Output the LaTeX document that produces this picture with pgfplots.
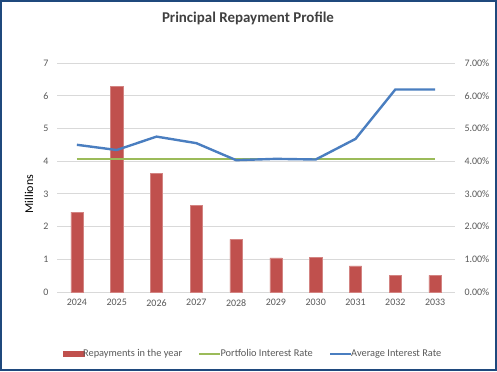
\documentclass[border=0pt]{standalone}
\usepackage{pgfplots}
\pgfplotsset{compat=1.18}
\usepackage{fontspec}
\setmainfont{Carlito}
\definecolor{barred}{HTML}{C0504D}
\definecolor{lgreen}{HTML}{9BBB59}
\definecolor{lblue}{HTML}{4A7EC0}
\definecolor{gridc}{HTML}{D9D9D9}
\definecolor{tickc}{HTML}{595959}
\definecolor{frame}{HTML}{1F497D}
\begin{document}
\begin{tikzpicture}[x=1bp,y=1bp]
\fill[white] (0,0) rectangle (497,371);
\draw[frame,line width=2bp] (1,1) rectangle (496,370);
\node[font=\fontsize{15}{17}\selectfont\bfseries,text=black!75] at (248,353) {Principal Repayment Profile};
\node[rotate=90,font=\fontsize{12}{14}\selectfont] at (29,177) {Millions};
\begin{axis}[
  at={(57bp,79bp)}, anchor=south west,
  scale only axis, width=398bp, height=229bp,
  xmin=-0.5, xmax=9.5, ymin=0, ymax=7,
  xtick={0,...,9},
  xticklabels={2024,2025,2026,2027,2028,2029,2030,2031,2032,2033},
  ytick={0,1,...,7},
  axis y line*=left, axis x line*=bottom,
  axis line style={draw=none},
  x axis line style={draw=gridc},
  major tick length=0pt,
  ymajorgrids, grid style={gridc, line width=0.8bp},
  tick label style={font=\fontsize{10}{12}\selectfont, text=tickc},
  yticklabel style={xshift=-5bp},
  xticklabel style={yshift=-4bp},
  /pgf/number format/assume math mode=true,
  legend columns=3,
  legend style={at={(0.4925,-0.27)}, anchor=center, draw=none, font=\fontsize{10.4}{12}\selectfont, text=tickc, /tikz/every even column/.append style={column sep=14bp}, /tikz/every odd column/.append style={column sep=-3bp}},
  legend image code/.code={\draw[#1] (0bp,0bp) -- (21bp,0bp);},
]
\addplot[ybar, bar width=12.3bp, fill=barred, draw=barred!70!white, bar shift=0pt, legend image code/.code={\fill[barred] (0bp,-2.5bp) rectangle (21bp,2.5bp);}] coordinates {
(0,2.44) (1,6.29) (2,3.63) (3,2.65) (4,1.61) (5,1.04) (6,1.06) (7,0.80) (8,0.51) (9,0.51)};
\addlegendentry{Repayments in the year}
\addlegendimage{lgreen, line width=2.4bp}
\addlegendentry{Portfolio Interest Rate}
\addlegendimage{lblue, line width=2.4bp}
\addlegendentry{Average Interest Rate}
\end{axis}
\begin{axis}[
  at={(57bp,79bp)}, anchor=south west,
  scale only axis, width=398bp, height=229bp,
  xmin=-0.5, xmax=9.5, ymin=0, ymax=7,
  axis y line*=right, axis x line=none,
  axis line style={draw=none},
  major tick length=0pt,
  ytick={0,1,...,7},
  yticklabel={\pgfmathprintnumber[fixed,fixed zerofill,precision=2]{\tick}\%},
  tick label style={font=\fontsize{10}{12}\selectfont, text=tickc},
  /pgf/number format/assume math mode=true,
  yticklabel style={xshift=6bp},
]
\addplot[lgreen, line width=2.4bp] coordinates {
(0,4.06) (1,4.06) (2,4.06) (3,4.06) (4,4.06) (5,4.06) (6,4.06) (7,4.06) (8,4.06) (9,4.06)};
\addplot[lblue, line width=2.4bp] coordinates {
(0,4.50) (1,4.34) (2,4.75) (3,4.55) (4,4.03) (5,4.07) (6,4.05) (7,4.68) (8,6.19) (9,6.19)};
\end{axis}
\end{tikzpicture}
\end{document}
